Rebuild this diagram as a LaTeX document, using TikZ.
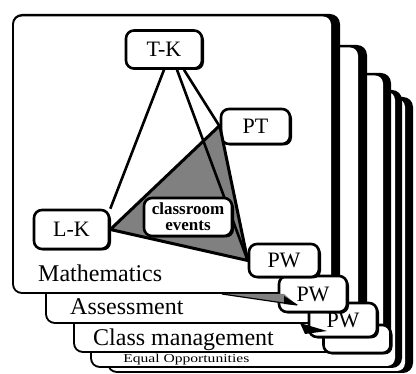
\documentclass[tikz,border=0pt]{standalone}
\usepackage{fontspec}
\setmainfont{Liberation Serif}
\usetikzlibrary{shadows}
\begin{document}
\begin{tikzpicture}[x=1pt,y=-1pt,
  cardout/.style={fill=black, rounded corners=10pt},
  cardin/.style={fill=white, rounded corners=8pt},
  lbl/.style={draw=black, line width=2.6pt, fill=white, rounded corners=8pt, inner sep=0pt,
     drop shadow={shadow xshift=2pt, shadow yshift=-1.5pt, fill=black, opacity=1},
     font=\fontsize{22}{22}\selectfont},
  evbox/.style={lbl, font=\fontsize{17}{16}\selectfont\bfseries, align=center},
  cardtext/.style={anchor=base west, inner sep=0pt, font=\fontsize{24}{24}\selectfont},
  link/.style={line width=2.6pt},
  shade/.style={fill=black!50, draw=black, line width=3pt, line join=round},
  wedge/.style={fill=black!50},
]
\useasboundingbox (0,0) rectangle (416,374);
% cards, back to front
\path[cardout] (107,97) rectangle (413,373);
\path[cardin] (109,99) rectangle (405,371);
\path[cardout] (90,90) rectangle (402,368);
\path[cardin] (92,92) rectangle (395,366);
\path[cardout] (73,73) rectangle (391,353);
\path[cardin] (75,75.5) rectangle (383,351);
\path[cardout] (45,45) rectangle (367,324);
\path[cardin] (47,47.5) rectangle (358,322);
\path[cardout] (12,14) rectangle (340,294);
\path[cardin] (14,16.5) rectangle (331,292);
% card titles
\node[cardtext] (tmath) at (38,282) {Mathematics};
\node[cardtext] (tass) at (70,315) {Assessment};
\node[cardtext] (tcls) at (93,346) {Class management};
\node[cardtext, font=\fontsize{12}{12}\selectfont, xscale=1.3] (teq) at (123,363) {Equal Opportunities};
% tabs of the back cards
\node[lbl, minimum width=67pt, minimum height=28pt] (pw4) at (357,339) {};
\node[lbl, minimum width=68pt, minimum height=34pt] (pw3) at (343,320) {PW};
\node[lbl, minimum width=68pt, minimum height=36pt] (pw2) at (313,294) {PW};
\fill[black] (300,323) -- (327,331) -- (305,334) -- cycle;
\path[wedge] (222,294) -- (284,294) -- (297,305) -- cycle;
\draw[line width=1.2pt] (222,294) -- (297,305);
\fill[black] (284,296) -- (298,305) -- (284,304) -- cycle;
% front card
\node[lbl, minimum width=76pt, minimum height=38pt] (tk) at (164,49.5) {T-K};
\node[lbl, minimum width=69pt, minimum height=35pt] (pt) at (255.5,126.5) {PT};
\node[lbl, minimum width=75pt, minimum height=39pt] (lk) at (71.5,229.5) {L-K};
\node[lbl, minimum width=70pt, minimum height=33pt] (pw1) at (284,260.5) {PW};
\path[shade] (lk.east) -- ([yshift=1pt]pt.west) -- (pw1.west) -- cycle;
\draw[link] (tk.south) -- (lk.north east);
\draw[link] ([xshift=13pt]tk.south) -- (pw1.west);
\draw[link] ([xshift=20pt]tk.south) -- (pt.west);
\node[evbox, minimum width=88pt, minimum height=38pt] (ce) at (188,217) {classroom\\events};
\end{tikzpicture}
\end{document}
